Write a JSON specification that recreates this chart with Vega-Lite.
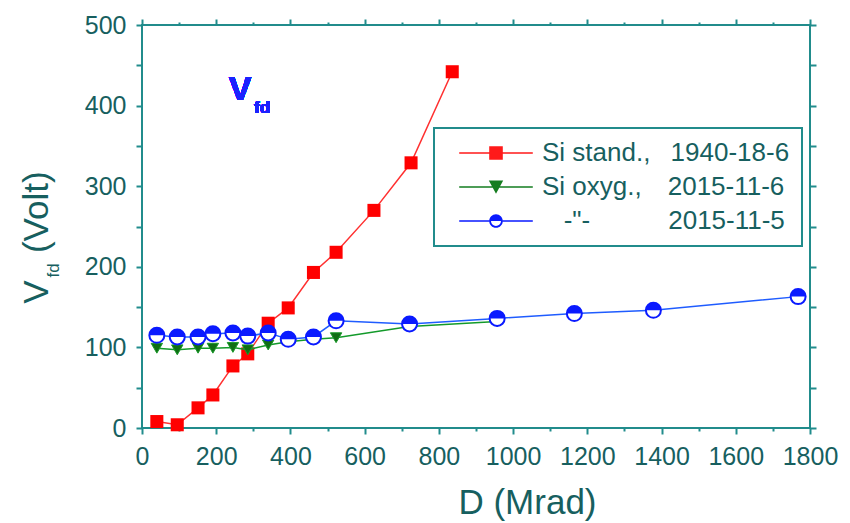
{
  "$schema": "https://vega.github.io/schema/vega-lite/v6.json",
  "width": 668,
  "height": 403,
  "autosize": {"type": "none"},
  "padding": {"left": 142, "top": 25, "right": 40, "bottom": 95},
  "background": "white",
  "data": {"values": [
    {"series": "std", "D": 40, "V": 8},
    {"series": "std", "D": 95, "V": 4},
    {"series": "std", "D": 151, "V": 25},
    {"series": "std", "D": 191, "V": 41},
    {"series": "std", "D": 245, "V": 77},
    {"series": "std", "D": 285, "V": 92},
    {"series": "std", "D": 340, "V": 130},
    {"series": "std", "D": 394, "V": 149},
    {"series": "std", "D": 462, "V": 193},
    {"series": "std", "D": 523, "V": 218},
    {"series": "std", "D": 625, "V": 270},
    {"series": "std", "D": 725, "V": 329},
    {"series": "std", "D": 836, "V": 442},
    {"series": "oxy6", "D": 40, "V": 99},
    {"series": "oxy6", "D": 95, "V": 97},
    {"series": "oxy6", "D": 151, "V": 99},
    {"series": "oxy6", "D": 191, "V": 99},
    {"series": "oxy6", "D": 245, "V": 100},
    {"series": "oxy6", "D": 285, "V": 97},
    {"series": "oxy6", "D": 340, "V": 103},
    {"series": "oxy6", "D": 394, "V": 107},
    {"series": "oxy6", "D": 462, "V": 110},
    {"series": "oxy6", "D": 523, "V": 112},
    {"series": "oxy6", "D": 721, "V": 126},
    {"series": "oxy6", "D": 957, "V": 132},
    {"series": "oxy5", "D": 40, "V": 115},
    {"series": "oxy5", "D": 95, "V": 113},
    {"series": "oxy5", "D": 151, "V": 113},
    {"series": "oxy5", "D": 191, "V": 117},
    {"series": "oxy5", "D": 245, "V": 118},
    {"series": "oxy5", "D": 285, "V": 114},
    {"series": "oxy5", "D": 340, "V": 118},
    {"series": "oxy5", "D": 394, "V": 110},
    {"series": "oxy5", "D": 462, "V": 113},
    {"series": "oxy5", "D": 523, "V": 133},
    {"series": "oxy5", "D": 721, "V": 129},
    {"series": "oxy5", "D": 957, "V": 136},
    {"series": "oxy5", "D": 1165, "V": 142},
    {"series": "oxy5", "D": 1378, "V": 146},
    {"series": "oxy5", "D": 1768, "V": 163}
  ]},
  "encoding": {
    "x": {"field": "D", "type": "quantitative", "scale": {"domain": [0, 1800], "nice": false, "zero": false}, "axis": null},
    "y": {"field": "V", "type": "quantitative", "scale": {"domain": [0, 500], "nice": false, "zero": false}, "axis": null}
  },
  "layer": [
    {
      "transform": [{"filter": "datum.series == 'std'"}],
      "mark": {"type": "line", "color": "#ff3030", "strokeWidth": 1.5},
      "encoding": {
        "x": {"field": "D", "type": "quantitative", "scale": {"domain": [0, 1800], "nice": false, "zero": false},
          "axis": {"orient": "bottom", "values": [0, 200, 400, 600, 800, 1000, 1200, 1400, 1600, 1800], "format": "d", "ticks": true, "tickSize": 6, "labelPadding": 10,
            "title": "D (Mrad)", "titleX": 385, "titleY": 85, "titleAlign": "center", "titleBaseline": "alphabetic", "titleAngle": 0}},
        "y": {"field": "V", "type": "quantitative", "scale": {"domain": [0, 500], "nice": false, "zero": false},
          "axis": {"orient": "left", "values": [0, 100, 200, 300, 400, 500], "format": "d", "ticks": true, "tickSize": 6, "labelPadding": 10,
            "title": "V\u2002\u00a0(Volt)", "titleX": -95, "titleY": 212, "titleAngle": -90, "titleAlign": "center", "titleBaseline": "alphabetic"}}
      }
    },
    {
      "transform": [{"filter": "datum.series == 'std'"}],
      "mark": {"type": "point", "shape": "square", "filled": true, "color": "#ff0000", "size": 170, "opacity": 1},
      "encoding": {
        "x": {"field": "D", "type": "quantitative", "scale": {"domain": [0, 1800], "nice": false, "zero": false},
          "axis": {"orient": "bottom", "values": [100, 300, 500, 700, 900, 1100, 1300, 1500, 1700], "ticks": true, "tickSize": 3, "labels": false, "title": null}},
        "y": {"field": "V", "type": "quantitative", "scale": {"domain": [0, 500], "nice": false, "zero": false},
          "axis": {"orient": "left", "values": [50, 150, 250, 350, 450], "ticks": true, "tickSize": 6, "labels": false, "title": null}}
      }
    },
    {
      "transform": [{"filter": "datum.series == 'oxy6'"}],
      "mark": {"type": "line", "color": "#139a2a", "strokeWidth": 1.5},
      "encoding": {
        "x": {"field": "D", "type": "quantitative", "scale": {"domain": [0, 1800], "nice": false, "zero": false},
          "axis": {"orient": "top", "values": [0, 200, 400, 600, 800, 1000, 1200, 1400, 1600, 1800], "ticks": true, "tickSize": 6, "labels": false, "title": null}},
        "y": {"field": "V", "type": "quantitative", "scale": {"domain": [0, 500], "nice": false, "zero": false},
          "axis": {"orient": "right", "values": [0, 100, 200, 300, 400, 500], "ticks": true, "tickSize": 6, "labels": false,
            "title": "fd", "titleFontSize": 17, "titleX": -752, "titleY": 245, "titleAngle": -90, "titleAlign": "center", "titleBaseline": "alphabetic"}}
      }
    },
    {
      "transform": [{"filter": "datum.series == 'oxy6'"}],
      "mark": {"type": "point", "shape": "triangle-down", "filled": true, "fill": "#0f6e14", "stroke": "#1a9a2a", "strokeWidth": 1, "size": 130, "opacity": 1},
      "encoding": {
        "x": {"field": "D", "type": "quantitative", "scale": {"domain": [0, 1800], "nice": false, "zero": false},
          "axis": {"orient": "top", "values": [100, 300, 500, 700, 900, 1100, 1300, 1500, 1700], "ticks": true, "tickSize": 3, "labels": false, "title": null}},
        "y": {"field": "V", "type": "quantitative", "scale": {"domain": [0, 500], "nice": false, "zero": false},
          "axis": {"orient": "right", "values": [50, 150, 250, 350, 450], "ticks": true, "tickSize": 6, "labels": false, "title": null}}
      }
    },
    {
      "transform": [{"filter": "datum.series == 'oxy5'"}],
      "mark": {"type": "line", "color": "#1f5cff", "strokeWidth": 1.5}
    },
    {
      "transform": [{"filter": "datum.series == 'oxy5'"}],
      "mark": {"type": "point", "shape": "circle", "filled": true, "fill": "white", "stroke": "#0a1aff", "strokeWidth": 2, "size": 225, "opacity": 1}
    },
    {
      "transform": [{"filter": "datum.series == 'oxy5'"}],
      "mark": {"type": "point", "shape": "M-1,0A1,1 0 0 1 1,0Z", "filled": true, "color": "#0a1aff", "size": 225, "opacity": 1}
    },
    {
      "mark": {"type": "point", "filled": true, "opacity": 0},
      "encoding": {
        "color": {"field": "series", "type": "nominal",
          "scale": {"domain": ["std", "oxy6", "oxy5"], "range": ["#ff1a1a", "#157d20", "#0a1aff"]},
          "legend": {"title": null, "labelExpr": "datum.value == 'std' ? 'Si stand.,\u2002\u00a01940-18-6' : datum.value == 'oxy6' ? 'Si oxyg.,\u20032015-11-6' : '\u200b\u00a0\u00a0\u00a0-\"-\u2003\u2003\u20032015-11-5'"}},
        "shape": {"field": "series", "type": "nominal",
          "scale": {"domain": ["std", "oxy6", "oxy5"], "range": [
            "M-4.6,-0.09H4.6V0.09H-4.6Z M-0.85,-0.85H0.85V0.85H-0.85Z",
            "M-4.6,-0.09H4.6V0.09H-4.6Z M-0.9,-0.8H0.9L0,0.85Z",
            "M-4.6,-0.09H-0.85V0.09H-4.6Z M0.85,-0.09H4.6V0.09H0.85Z M-0.85,0A0.85,0.85 0 0 1 0.85,0Z M0.85,0A0.85,0.85 0 0 1 -0.85,0L-0.62,0A0.62,0.62 0 0 0 0.62,0Z"
          ]},
          "legend": {"title": null, "labelExpr": "datum.value == 'std' ? 'Si stand.,\u2002\u00a01940-18-6' : datum.value == 'oxy6' ? 'Si oxyg.,\u20032015-11-6' : '\u200b\u00a0\u00a0\u00a0-\"-\u2003\u2003\u20032015-11-5'"}}
      }
    },
    {
      "mark": {"type": "text", "text": "V", "font": "Liberation Sans", "fontSize": 34, "fontWeight": "bold", "color": "#1a22ff", "align": "center", "baseline": "alphabetic"},
      "encoding": {
        "x": {"datum": 264, "type": "quantitative", "axis": null},
        "y": {"datum": 407, "type": "quantitative", "axis": null}
      }
    },
    {
      "mark": {"type": "text", "text": "fd", "font": "Liberation Sans", "fontSize": 17, "fontWeight": "bold", "color": "#1a22ff", "align": "left", "baseline": "alphabetic"},
      "encoding": {
        "x": {"datum": 302, "type": "quantitative", "axis": null},
        "y": {"datum": 391, "type": "quantitative", "axis": null}
      }
    }
  ],
  "resolve": {"axis": {"x": "independent", "y": "independent"}},
  "config": {
    "view": {"stroke": "#218c8c", "strokeWidth": 2},
    "axis": {
      "grid": false, "domain": false, "tickColor": "#218c8c", "tickWidth": 2,
      "labelFont": "Liberation Sans", "labelFontSize": 25, "labelColor": "#175f5f",
      "titleFont": "Liberation Sans", "titleFontSize": 35, "titleFontWeight": "normal", "titleColor": "#175f5f",
      "labelFlush": false, "labelOverlap": false
    },
    "legend": {
      "orient": "none", "legendX": 292, "legendY": 103, "direction": "vertical",
      "padding": 12, "strokeColor": "#218c8c", "strokeWidth": 2, "fillColor": "white",
      "symbolSize": 256, "symbolStrokeWidth": 0, "symbolOpacity": 1, "symbolOffset": 37,
      "labelOffset": 33, "labelFont": "Liberation Sans", "labelFontSize": 26, "labelColor": "#175f5f",
      "labelLimit": 400, "rowPadding": 8
    }
  }
}
